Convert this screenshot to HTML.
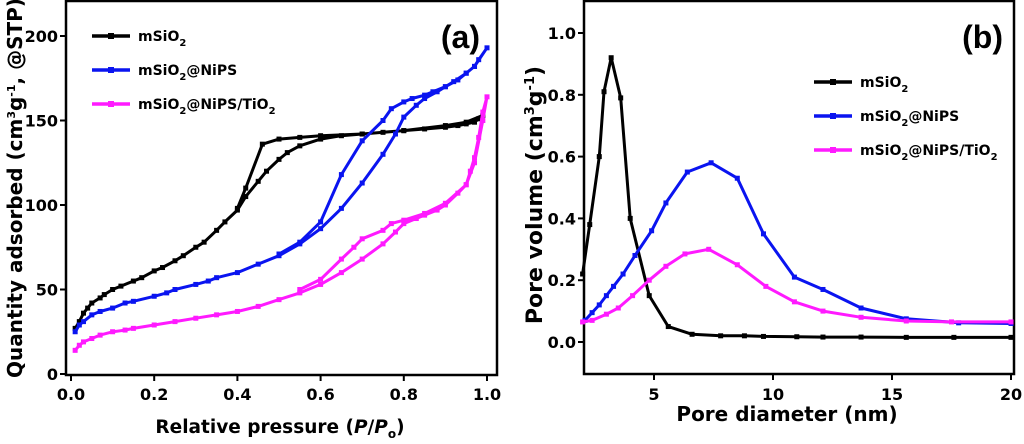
<!DOCTYPE html>
<html><head><meta charset="utf-8"><style>
body{margin:0;background:#fff}
svg{display:block;font-family:"DejaVu Sans","Liberation Sans",sans-serif;font-weight:bold}
</style></head><body>
<svg id="c" width="1024" height="444" viewBox="0 0 1024 444"></svg>
<script>
// Panel (a) data: [P/Po, quantity]
const aBlack=[[0.01,27],[0.02,31],[0.03,36],[0.04,39],[0.05,42],[0.07,45],[0.08,47],[0.1,50],[0.12,52],[0.15,55],[0.17,57],[0.2,61],[0.22,63],[0.25,67],[0.27,70],[0.3,75],[0.32,78],[0.35,85],[0.37,90],[0.4,97],[0.42,105],[0.45,114],[0.47,120],[0.5,127],[0.52,131],[0.55,135],[0.6,139],[0.65,141],[0.7,142],[0.75,143],[0.8,144],[0.85,145],[0.9,146],[0.93,147],[0.95,148],[0.97,149],[0.98,151],[0.99,153],[0.95,149],[0.9,147],[0.8,144],[0.7,142],[0.6,141],[0.55,140],[0.5,139],[0.46,136],[0.42,110],[0.4,98]];
const aBlue=[[0.01,25],[0.02,29],[0.03,31],[0.05,35],[0.07,37],[0.1,39],[0.13,42],[0.15,43],[0.2,46],[0.23,48],[0.25,50],[0.3,53],[0.33,55],[0.35,57],[0.4,60],[0.45,65],[0.5,70],[0.55,77],[0.6,86],[0.65,98],[0.7,113],[0.75,130],[0.78,142],[0.8,152],[0.83,159],[0.85,163],[0.88,167],[0.9,170],[0.93,174],[0.95,178],[0.97,182],[0.98,186],[1.0,193],[0.97,182],[0.95,178],[0.92,173],[0.9,170],[0.87,167],[0.85,165],[0.82,163],[0.8,161],[0.77,157],[0.75,150],[0.7,138],[0.65,118],[0.6,90],[0.55,78],[0.5,71]];
const aPink=[[0.01,14],[0.02,17],[0.03,19],[0.05,21],[0.07,23],[0.1,25],[0.13,26],[0.15,27],[0.2,29],[0.25,31],[0.3,33],[0.35,35],[0.4,37],[0.45,40],[0.5,44],[0.55,48],[0.6,53],[0.65,60],[0.7,68],[0.75,77],[0.78,84],[0.8,89],[0.83,92],[0.85,94],[0.88,97],[0.9,100],[0.93,107],[0.95,112],[0.96,120],[0.97,128],[0.98,140],[0.99,155],[1.0,164],[0.99,150],[0.97,125],[0.95,112],[0.9,101],[0.85,95],[0.8,91],[0.77,89],[0.75,85],[0.7,80],[0.68,75],[0.65,68],[0.6,56],[0.55,50]];
// Panel (b) data: [diameter nm, pore volume]
const bBlack=[[2,0.22],[2.3,0.38],[2.7,0.60],[2.9,0.81],[3.2,0.92],[3.6,0.79],[4.0,0.40],[4.8,0.15],[5.6,0.05],[6.6,0.025],[7.8,0.02],[8.8,0.02],[9.6,0.018],[11,0.017],[12.1,0.016],[13.7,0.016],[15.6,0.015],[17.6,0.015],[20,0.015]];
const bBlue=[[2.1,0.07],[2.4,0.095],[2.7,0.12],[3.0,0.15],[3.3,0.18],[3.7,0.22],[4.2,0.28],[4.9,0.36],[5.5,0.45],[6.4,0.55],[7.4,0.58],[8.5,0.53],[9.6,0.35],[10.9,0.21],[12.1,0.17],[13.7,0.11],[15.6,0.075],[17.8,0.062],[20,0.06]];
const bPink=[[2,0.065],[2.4,0.07],[3,0.09],[3.5,0.11],[4.1,0.15],[4.8,0.2],[5.5,0.245],[6.3,0.285],[7.3,0.3],[8.5,0.25],[9.7,0.18],[10.9,0.13],[12.1,0.1],[13.7,0.08],[15.6,0.068],[17.5,0.065],[20,0.065]];
const aXTicks=[0,0.2,0.4,0.6,0.8,1.0];
const aYTicks=[0,50,100,150,200];
const bXTicks=[5,10,15,20];
const bYTicks=[0,0.2,0.4,0.6,0.8,1.0];

const NS="http://www.w3.org/2000/svg";
const svg=document.getElementById('c');
function el(t,a,p){const e=document.createElementNS(NS,t);for(const k in a)e.setAttribute(k,a[k]);(p||svg).appendChild(e);return e;}
const ax=v=>71+v*416, ay=v=>374-v*1.69;
const bx=v=>654+(v-5)*23.8, by=v=>342-v*309;

function series(data,fx,fy,color,name){
  const g=el('g',{});
  
  
  const pts=data.map(d=>fx(d[0]).toFixed(1)+','+fy(d[1]).toFixed(1)).join(' ');
  el('polyline',{points:pts,fill:'none',stroke:color,'stroke-width':3,'stroke-linejoin':'round'},g);
  data.forEach(d=>{
    const r=el('rect',{x:fx(d[0])-2.5,y:fy(d[1])-2.5,width:5,height:5,fill:color},g);
    
    
  });
}
function legend(x,y,color,label){
  const g=el('g',{});
  
  
  el('line',{x1:x,y1:y,x2:x+38,y2:y,stroke:color,'stroke-width':3.5},g);
  el('rect',{x:x+16,y:y-3,width:6,height:6,fill:color},g);
  const t=el('text',{x:x+46,y:y+5,'font-size':14},g);
  t.innerHTML=label;
}
const fa=el('rect',{x:66,y:1,width:431,height:374,fill:'none',stroke:'#000','stroke-width':2.5});

aXTicks.forEach(v=>{el('line',{x1:ax(v),y1:375,x2:ax(v),y2:381,stroke:'#000','stroke-width':2});
  const t=el('text',{x:ax(v),y:400,'font-size':16,'text-anchor':'middle'});t.textContent=v.toFixed(1);
  });
aYTicks.forEach(v=>{el('line',{x1:60,y1:ay(v),x2:66,y2:ay(v),stroke:'#000','stroke-width':2});
  const t=el('text',{x:58,y:ay(v)+6,'font-size':16,'text-anchor':'end'});t.textContent=v;
  });
series(aBlack,ax,ay,'#000','series-msio2-a');
series(aBlue,ax,ay,'#0a14f0','series-msio2-nips-a');
series(aPink,ax,ay,'#ff1aff','series-msio2-nips-tio2-a');
legend(92,36,'#000','mSiO<tspan font-size="10" dy="5">2</tspan>');
legend(92,70,'#0a14f0','mSiO<tspan font-size="10" dy="5">2</tspan><tspan dy="-5">@NiPS</tspan>');
legend(92,104,'#ff1aff','mSiO<tspan font-size="10" dy="5">2</tspan><tspan dy="-5">@NiPS/TiO</tspan><tspan font-size="10" dy="5">2</tspan>');
let t=el('text',{x:480,y:48,'font-size':32,'text-anchor':'end','font-family':'Liberation Sans'});t.textContent='(a)';

t=el('text',{x:280,y:433,'font-size':18.5,'text-anchor':'middle'});
t.innerHTML='Relative pressure (<tspan font-style="italic">P</tspan>/<tspan font-style="italic">P</tspan><tspan font-size="12" dy="5">o</tspan><tspan dy="-5">)</tspan>';

t=el('text',{x:0,y:0,'font-size':20,'text-anchor':'middle',transform:'translate(22,188) rotate(-90)'});
t.innerHTML='Quantity adsorbed (cm<tspan font-size="11" dy="-7">3</tspan><tspan dy="7">g</tspan><tspan font-size="11" dy="-7">-1</tspan><tspan dy="7">, @STP)</tspan>';


const fb=el('rect',{x:584,y:1,width:430,height:373,fill:'none',stroke:'#000','stroke-width':2.5});

bXTicks.forEach(v=>{el('line',{x1:bx(v),y1:374,x2:bx(v),y2:380,stroke:'#000','stroke-width':2});
  const t=el('text',{x:Math.min(bx(v),1012),y:400,'font-size':16,'text-anchor':'middle'});t.textContent=v;
  });
bYTicks.forEach(v=>{el('line',{x1:578,y1:by(v),x2:584,y2:by(v),stroke:'#000','stroke-width':2});
  const t=el('text',{x:576,y:by(v)+6,'font-size':16,'text-anchor':'end'});t.textContent=v.toFixed(1);
  });
series(bBlack,bx,by,'#000','series-msio2-b');
series(bBlue,bx,by,'#0a14f0','series-msio2-nips-b');
series(bPink,bx,by,'#ff1aff','series-msio2-nips-tio2-b');
legend(814,82,'#000','mSiO<tspan font-size="10" dy="5">2</tspan>');
legend(814,116,'#0a14f0','mSiO<tspan font-size="10" dy="5">2</tspan><tspan dy="-5">@NiPS</tspan>');
legend(814,150,'#ff1aff','mSiO<tspan font-size="10" dy="5">2</tspan><tspan dy="-5">@NiPS/TiO</tspan><tspan font-size="10" dy="5">2</tspan>');
t=el('text',{x:1003,y:48,'font-size':32,'text-anchor':'end','font-family':'Liberation Sans'});t.textContent='(b)';

t=el('text',{x:787,y:421,'font-size':20,'text-anchor':'middle'});t.textContent='Pore diameter (nm)';

t=el('text',{x:0,y:0,'font-size':22,'text-anchor':'middle',transform:'translate(542,195) rotate(-90)'});
t.innerHTML='Pore volume (cm<tspan font-size="13" dy="-8">3</tspan><tspan dy="8">g</tspan><tspan font-size="13" dy="-8">-1</tspan><tspan dy="8">)</tspan>';

</script>
</body></html>
